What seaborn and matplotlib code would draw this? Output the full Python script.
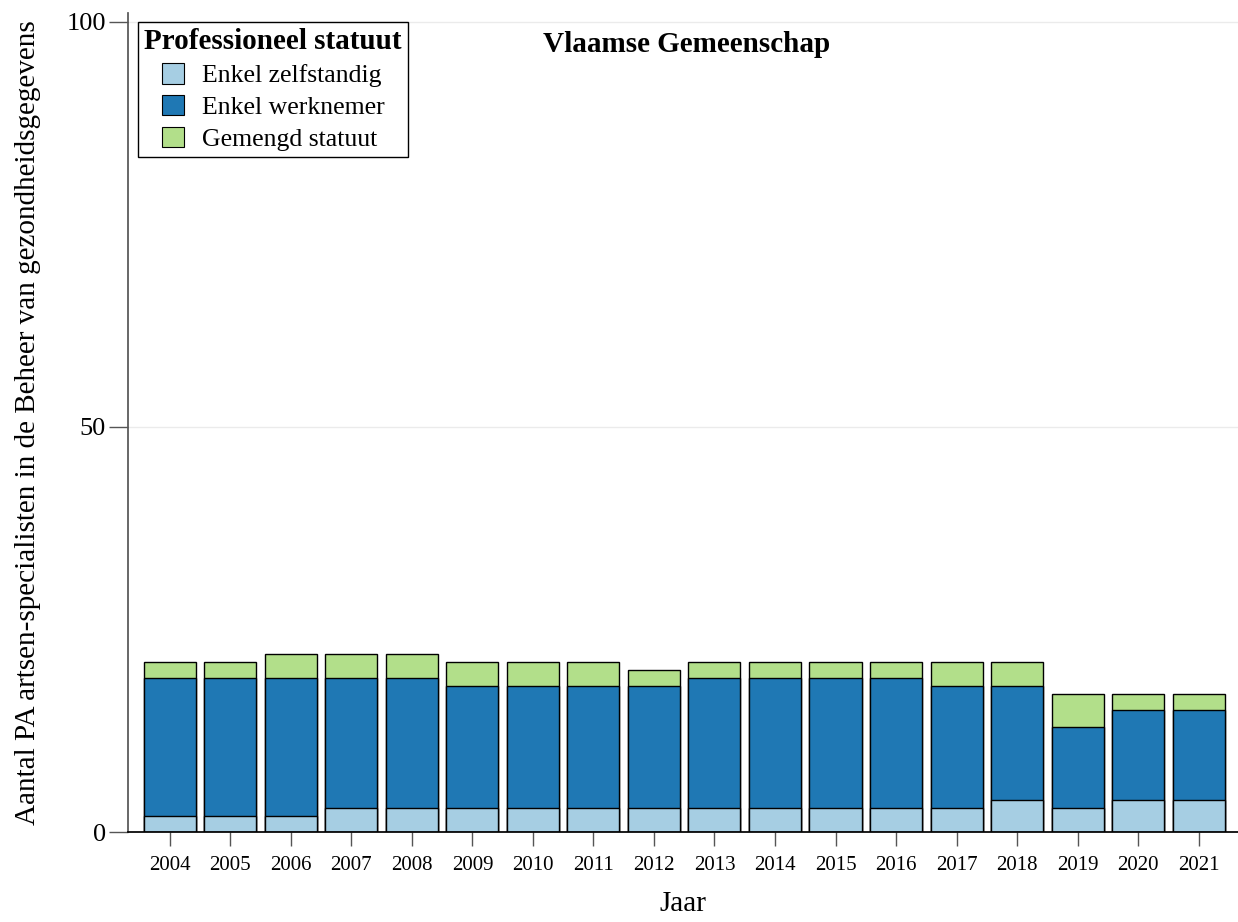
import matplotlib
matplotlib.use("Agg")
import matplotlib.pyplot as plt
import seaborn as sns
import pandas as pd
import numpy as np
from matplotlib.patches import Patch

years = [str(y) for y in range(2004, 2022)]
zelfstandig = [2, 2, 2, 3, 3, 3, 3, 3, 3, 3, 3, 3, 3, 3, 4, 3, 4, 4]
werknemer   = [17, 17, 17, 16, 16, 15, 15, 15, 15, 16, 16, 16, 16, 15, 14, 10, 11, 11]
gemengd     = [2, 2, 3, 3, 3, 3, 3, 3, 2, 2, 2, 2, 2, 3, 3, 4, 2, 2]

labels = ["Enkel zelfstandig", "Enkel werknemer", "Gemengd statuut"]
colors = ["#a6cee3", "#1f78b4", "#b2df8a"]

df = pd.DataFrame({"Jaar": years, "z": zelfstandig, "w": werknemer, "g": gemengd})
df["zw"] = df["z"] + df["w"]
df["tot"] = df["zw"] + df["g"]

sns.set_theme(style="white")
plt.rcParams["font.family"] = ["Liberation Serif", "DejaVu Serif"]
plt.rcParams["text.color"] = "black"
plt.rcParams["axes.labelcolor"] = "black"
plt.rcParams["xtick.labelcolor"] = "black"
plt.rcParams["ytick.labelcolor"] = "black"

fig = plt.figure(figsize=(12.38, 9.22), dpi=100)
ax = fig.add_axes([128/1238, (922-832)/922, (1238-128)/1238, (832-13)/922])

w = 0.86
sns.barplot(data=df, x="Jaar", y="tot", color=colors[2], edgecolor="black", linewidth=1, width=w, ax=ax, saturation=1)
sns.barplot(data=df, x="Jaar", y="zw", color=colors[1], edgecolor="black", linewidth=1, width=w, ax=ax, saturation=1)
sns.barplot(data=df, x="Jaar", y="z", color=colors[0], edgecolor="black", linewidth=1, width=w, ax=ax, saturation=1)

ax.set_ylim(0, 101.1)
ax.set_xlim(-0.69, 17.65)
ax.set_yticks([0, 50, 100])
ax.yaxis.grid(True, color="#ebebeb", linewidth=1)
ax.set_axisbelow(True)
for s in ["top", "right"]:
    ax.spines[s].set_visible(False)
ax.spines["left"].set_color("#555555")
ax.spines["bottom"].set_color("#000000")
ax.tick_params(axis="y", which="both", left=True, length=14, width=1, color="#555555", labelsize=19, pad=2)
ax.tick_params(axis="x", which="both", bottom=True, length=10, width=1, color="#555555", labelsize=15, pad=7)

ax.set_xlabel("Jaar", fontsize=21, labelpad=12)
ax.set_ylabel("Aantal PA artsen-specialisten in de Beheer van gezondheidsgegevens", fontsize=21, labelpad=18)

ax.text(0.503, 0.962, "Vlaamse Gemeenschap", transform=ax.transAxes, ha="center", va="center",
        fontsize=21, fontweight="bold")

handles = [Patch(facecolor=c, edgecolor="black", linewidth=0.8) for c in colors]
leg = ax.legend(handles, labels, title="Professioneel statuut", loc="upper left",
                bbox_to_anchor=(10/1110, 1 - 9/819), fontsize=18.5, title_fontsize=21,
                frameon=True, fancybox=False, edgecolor="black", framealpha=1,
                borderpad=0.25, labelspacing=0.3, handlelength=0.85, handleheight=0.85,
                handletextpad=0.7, borderaxespad=0)
leg.get_title().set_fontweight("bold")
leg.get_frame().set_linewidth(1)

fig.savefig("out.png", dpi=100)
